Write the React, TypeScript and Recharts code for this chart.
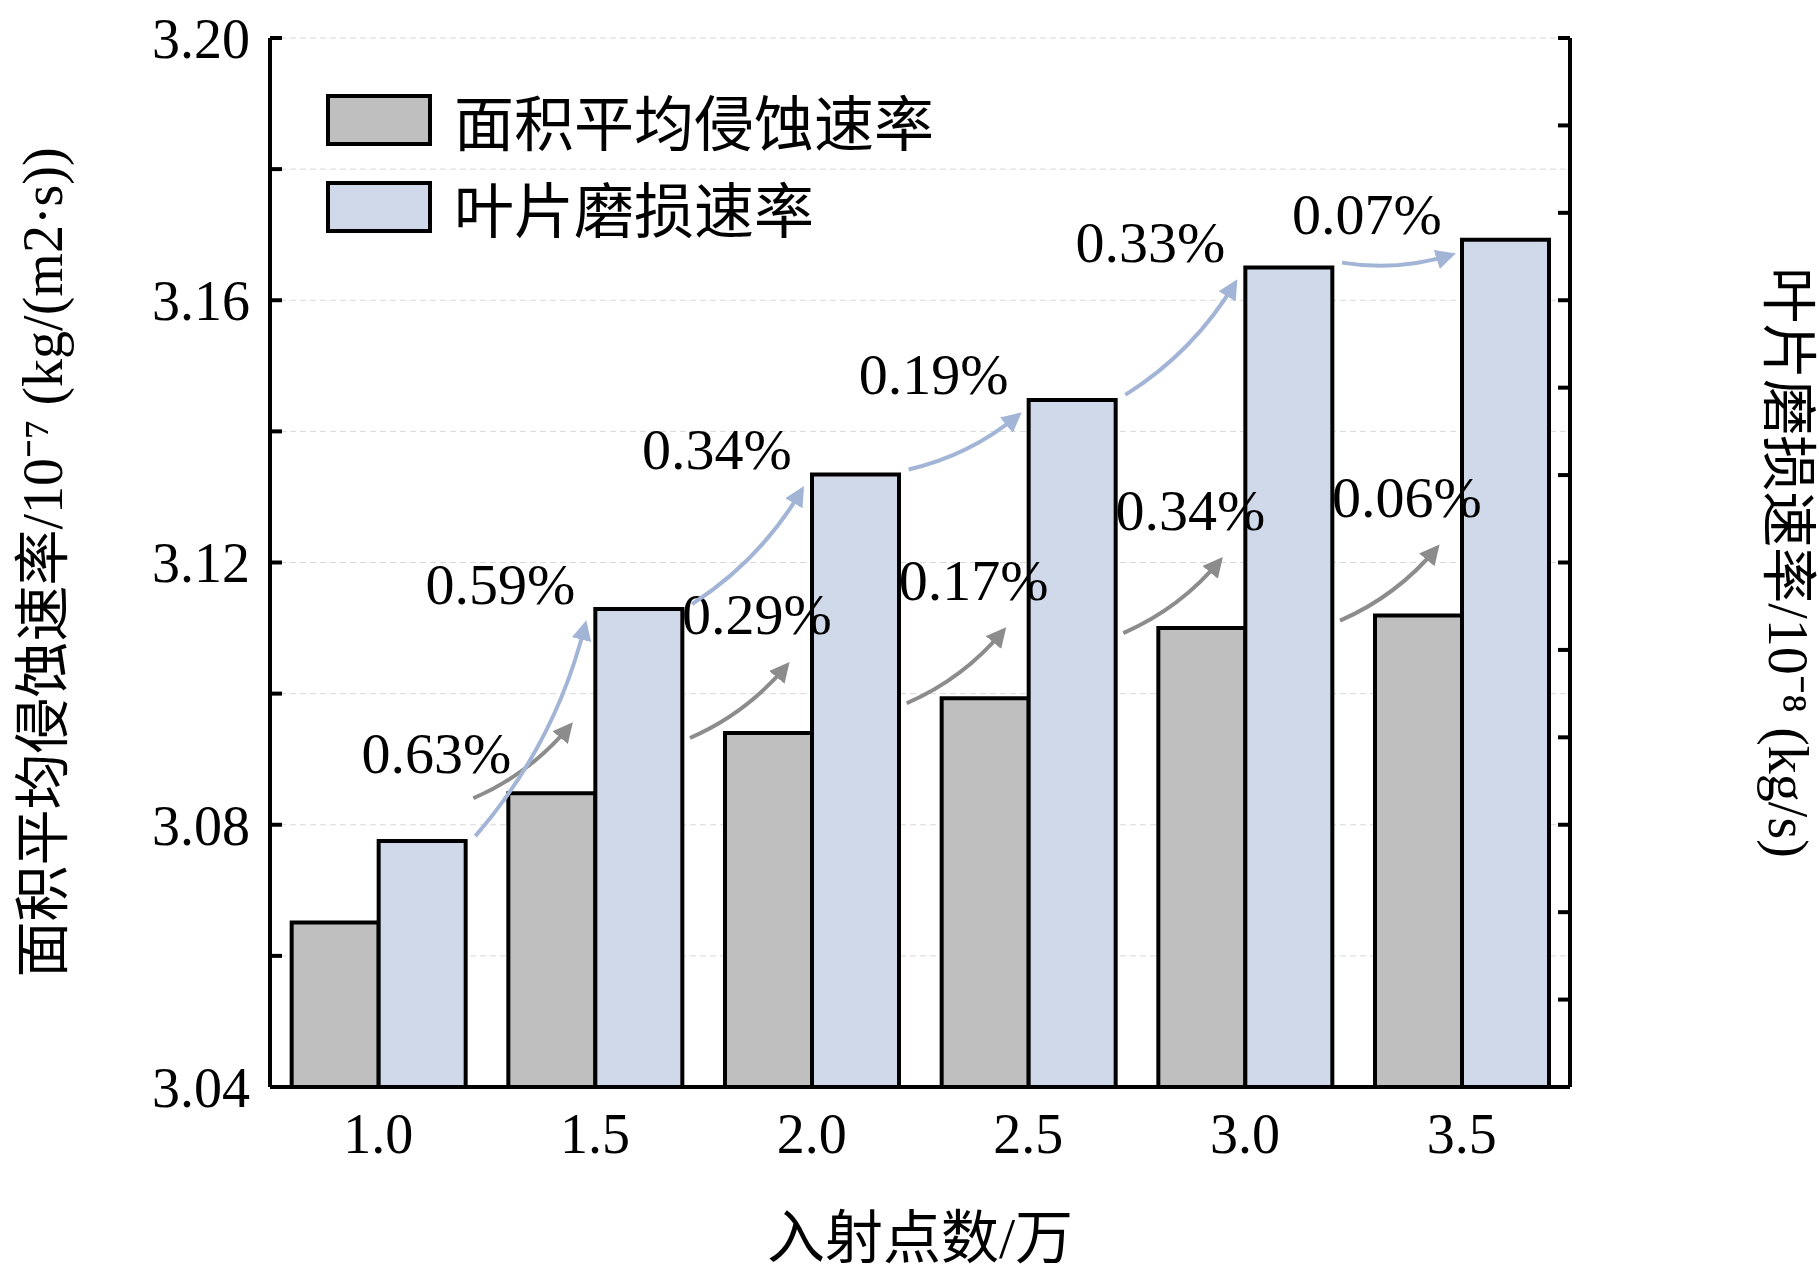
import React from "react";
import {
  Bar,
  BarChart,
  CartesianGrid,
  Label,
  LabelList,
  XAxis,
  YAxis,
} from "recharts";

const categories = ["1.0", "1.5", "2.0", "2.5", "3.0", "3.5"];
const erosionRate = [3.0651, 3.0848, 3.094, 3.0993, 3.11, 3.1119];
const wearRate = [6.7422, 6.782, 6.8051, 6.8179, 6.8406, 6.8454];
const erosionPct = ["", "0.63%", "0.29%", "0.17%", "0.34%", "0.06%"];
const wearPct = ["", "0.59%", "0.34%", "0.19%", "0.33%", "0.07%"];
const leftTicks = [3.04, 3.06, 3.08, 3.1, 3.12, 3.14, 3.16, 3.18, 3.2];
const rightTicks = [6.7, 6.715, 6.73, 6.745, 6.76, 6.775, 6.79, 6.805, 6.82, 6.835, 6.85, 6.865, 6.88];
const legendItems = ["面积平均侵蚀速率", "叶片磨损速率"];

const data = categories.map((c, i) => ({
  x: c,
  erosion: erosionRate[i],
  wear: wearRate[i],
}));

const FONT = '"Liberation Serif", "Noto Sans CJK SC", serif';
const GRAY = "#bfbfbf";
const BLUE = "#cfd9ea";

function Arrow({ x1, y1, x2, y2, color, id }: any) {
  const mx = (x1 + x2) / 2 - (y2 - y1) * 0.12;
  const my = (y1 + y2) / 2 + (x2 - x1) * 0.12;
  return (
    <g>
      <defs>
        <marker id={id} viewBox="0 0 10 10" refX="8" refY="5" markerWidth="5" markerHeight="5" orient="auto">
          <path d="M0,0 L10,5 L0,10 z" fill={color} />
        </marker>
      </defs>
      <path d={`M${x1},${y1} Q${mx},${my} ${x2},${y2}`} stroke={color} strokeWidth={4} fill="none" markerEnd={`url(#${id})`} />
    </g>
  );
}

// gray arrows: from the left of the bar up to its top-left corner
function erosionLabel(props: any) {
  const { x, y, index } = props;
  if (!index) return null;
  const tx = index === 1 ? x - 72 : x + 32;
  const ty = index === 1 ? y - 40 : y - 118;
  return (
    <g>
      <Arrow id={`ga${index}`} x1={x - 35} y1={y + 5} x2={x + 62} y2={y - 68} color="#8c8c8c" />
      <text x={tx} y={ty} textAnchor="middle" dominantBaseline="central" fontFamily={FONT} fontSize={58} fill="#000">
        {erosionPct[index]}
      </text>
    </g>
  );
}

// blue arrows: from the previous blue bar's level to this bar's top-left
function wearLabel(props: any) {
  const { x, y, height, index } = props;
  if (!index) return null;
  const v = wearRate[index];
  const vp = wearRate[index - 1];
  const prevTop = y + (height * (v - vp)) / (v - 6.7);
  return (
    <g>
      <Arrow id={`ba${index}`} x1={x - 120} y1={prevTop - 5} x2={x - 10} y2={y + 15} color="#a3b5d6" />
      <text x={x - 95} y={y - 25} textAnchor="middle" dominantBaseline="central" fontFamily={FONT} fontSize={58} fill="#000">
        {wearPct[index]}
      </text>
    </g>
  );
}

const tickStyle = { fontSize: 56, fill: "#000", fontFamily: FONT };

export default function App() {
  return (
    <div style={{ position: "absolute", left: 0, top: 0, width: 1819, height: 1288, background: "#fff" }}>
      <BarChart
        width={1819}
        height={1288}
        data={data}
        margin={{ top: 38, right: 0, left: 0, bottom: 0 }}
        barCategoryGap="10%"
        barGap={0}
      >
        <CartesianGrid yAxisId="left" vertical={false} stroke="#d9d9d9" strokeDasharray="6 4" />
        <XAxis
          dataKey="x"
          height={201}
          stroke="#000"
          strokeWidth={4}
          tickLine={false}
          tick={tickStyle}
          tickMargin={20}
        >
          <Label value="入射点数/万" position="insideBottom" offset={30} style={{ fontSize: 58, fill: "#000", fontFamily: FONT }} />
        </XAxis>
        <XAxis xAxisId="top" dataKey="x" orientation="top" height={0} stroke="#000" strokeWidth={4} tick={false} tickLine={false} />
        <YAxis
          yAxisId="left"
          width={270}
          domain={[3.04, 3.2]}
          ticks={leftTicks}
          interval={0}
          allowDataOverflow
          stroke="#000"
          strokeWidth={4}
          tickSize={-12}
          tickMargin={32}
          tick={tickStyle}
          tickFormatter={(v: number) => (Math.round(v * 100) % 4 === 0 ? v.toFixed(2) : "")}
        >
          <Label
            value="面积平均侵蚀速率/10⁻⁷ (kg/(m2·s))"
            angle={-90}
            position="insideLeft"
            offset={42}
            style={{ fontSize: 56, fill: "#000", fontFamily: FONT, textAnchor: "middle" }}
          />
        </YAxis>
        <YAxis
          yAxisId="right"
          orientation="right"
          width={249}
          domain={[6.7, 6.88]}
          ticks={rightTicks}
          interval={0}
          allowDataOverflow
          stroke="#000"
          strokeWidth={4}
          tickSize={-12}
          tickMargin={32}
          tick={tickStyle}
          tickFormatter={(v: number) => (Math.round(v * 1000) % 30 === 0 ? v.toFixed(2) : "")}
        >
          <Label
            value="叶片磨损速率/10⁻⁸ (kg/s)"
            angle={90}
            position="insideRight"
            offset={30}
            style={{ fontSize: 56, fill: "#000", fontFamily: FONT, textAnchor: "middle" }}
          />
        </YAxis>
        <Bar yAxisId="left" dataKey="erosion" fill={GRAY} stroke="#000" strokeWidth={4} isAnimationActive={false}>
          <LabelList dataKey="erosion" content={erosionLabel} />
        </Bar>
        <Bar yAxisId="right" dataKey="wear" fill={BLUE} stroke="#000" strokeWidth={4} isAnimationActive={false}>
          <LabelList dataKey="wear" content={wearLabel} />
        </Bar>
      </BarChart>
      <div style={{ position: "absolute", left: 326, top: 76, fontFamily: FONT }}>
        {legendItems.map((label, i) => (
          <div key={label} style={{ display: "flex", alignItems: "center", height: 87 }}>
            <div
              style={{
                width: 106,
                height: 52,
                background: i === 0 ? GRAY : BLUE,
                border: "4px solid #000",
                boxSizing: "border-box",
              }}
            />
            <span style={{ fontSize: 60, marginLeft: 22, color: "#000" }}>{label}</span>
          </div>
        ))}
      </div>
    </div>
  );
}
